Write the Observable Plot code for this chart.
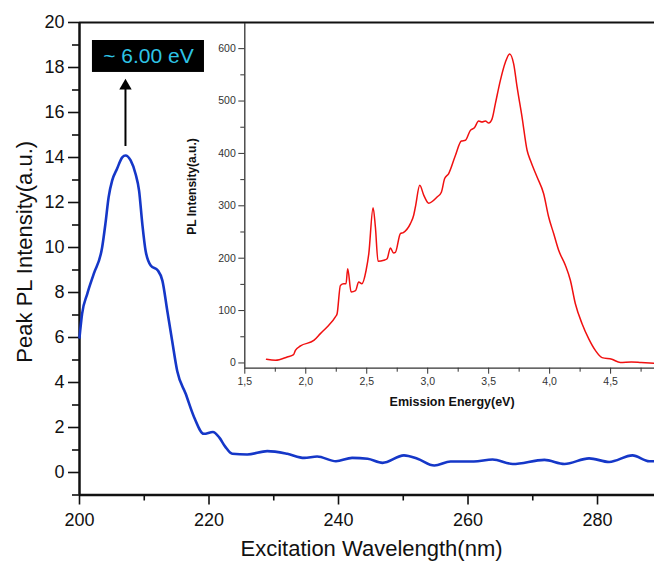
<!DOCTYPE html>
<html>
<head>
<meta charset="utf-8">
<script src="https://cdn.jsdelivr.net/npm/d3@7"></script>
<script src="https://cdn.jsdelivr.net/npm/@observablehq/plot@0.6"></script>
<style>
  html, body { margin: 0; padding: 0; background: white; }
  #wrap { position: relative; width: 654px; height: 562px; overflow: hidden; }
  #inset { position: absolute; left: 180px; top: 0px; }
  svg { overflow: visible; }
</style>
</head>
<body>
<div id="wrap"><div id="main"></div><div id="inset"></div></div>
<script>
// Main chart: excitation spectrum
const wavelength = [200, 200.4, 201.2, 202.2, 203.5, 204.0, 204.5, 205.05, 205.8, 206.6, 207.1, 207.9, 208.65, 209.2, 209.7, 210.2, 211.0, 212.1, 212.8, 213.55, 214.3, 215.1, 216.4, 217.7, 219.2, 220.6, 221.6, 222.5, 223.6, 225.9, 229.0, 232.1, 234.7, 236.7, 239.6, 242.1, 244.5, 246.8, 250.1, 252.2, 254.8, 257.3, 260.9, 263.8, 266.9, 271.8, 274.9, 278.7, 281.8, 285.4, 288.0, 288.8];
const peakIntensity = [6.0, 7.05, 7.94, 8.83, 10.01, 11.05, 12.24, 12.98, 13.5, 14.01, 14.09, 13.87, 13.28, 12.53, 11.05, 9.87, 9.2, 8.98, 8.53, 7.2, 5.87, 4.5, 3.5, 2.46, 1.72, 1.8, 1.55, 1.15, 0.83, 0.8, 0.95, 0.83, 0.65, 0.71, 0.5, 0.65, 0.61, 0.43, 0.76, 0.61, 0.31, 0.49, 0.49, 0.58, 0.38, 0.56, 0.38, 0.63, 0.47, 0.76, 0.5, 0.5];
const xTicks = [200, 220, 240, 260, 280];
const xMinor = [210, 230, 250, 270];
const yTicks = [0, 2, 4, 6, 8, 10, 12, 14, 16, 18, 20];
const yMinor = [-1, 1, 3, 5, 7, 9, 11, 13, 15, 17, 19];
const annotationText = ["~ 6.00 eV"];

// Inset: emission spectrum
const energy = [1.678, 1.752, 1.848, 1.90, 1.915, 1.957, 2.066, 2.12, 2.175, 2.243, 2.257, 2.284, 2.311, 2.33, 2.344, 2.372, 2.408, 2.434, 2.46, 2.495, 2.517, 2.552, 2.571, 2.593, 2.64, 2.667, 2.694, 2.72, 2.735, 2.776, 2.80, 2.858, 2.885, 2.899, 2.935, 2.968, 3.008, 3.077, 3.112, 3.139, 3.171, 3.227, 3.276, 3.309, 3.35, 3.383, 3.418, 3.445, 3.473, 3.5, 3.528, 3.555, 3.596, 3.637, 3.672, 3.705, 3.733, 3.774, 3.815, 3.842, 3.897, 3.951, 3.992, 4.033, 4.074, 4.129, 4.17, 4.211, 4.266, 4.32, 4.375, 4.43, 4.51, 4.58, 4.67, 4.75, 4.86];
const plIntensity = [7, 5.2, 11.5, 16, 24, 32.5, 43, 56, 68.7, 88, 94, 148, 151, 151, 180, 135.5, 138, 154.6, 151, 177, 208.8, 296.5, 259.5, 194, 196, 199, 219.5, 210, 211, 247, 249, 266, 282, 297.7, 339, 320, 305, 316.8, 326, 352, 361, 396, 423.7, 425, 444, 449, 462, 460, 462, 458, 466, 495, 539.5, 574, 590, 571, 527, 469, 406, 386.8, 355, 323, 278.6, 247, 215, 186.5, 157.8, 113, 75, 46.5, 24, 10.2, 7, 1, 2, 1, -0.5];
const eTicks = [1.5, 2.0, 2.5, 3.0, 3.5, 4.0, 4.5];
const eMinor = [1.75, 2.25, 2.75, 3.25, 3.75, 4.25, 4.75];
const iTicks = [0, 100, 200, 300, 400, 500, 600];
const iMinor = [50, 150, 250, 350, 450, 550];

const font = "'Liberation Sans', Arial, Helvetica, sans-serif";
const blue = wavelength.map((w, i) => ({w, v: peakIntensity[i]}));
const red = energy.map((e, i) => ({e, v: plIntensity[i]}));

const main = Plot.plot({
  width: 654, height: 562,
  marginLeft: 79, marginRight: 0, marginTop: 22, marginBottom: 67.5,
  x: {domain: [200, 288.8]},
  y: {domain: [-1, 20]},
  style: {fontFamily: font, color: "#111", background: "white"},
  marks: [
    Plot.axisX(xTicks, {anchor: "bottom", tickSize: 10, tickPadding: 8, fontSize: 18, strokeWidth: 1.6, label: null}),
    Plot.axisX(xMinor, {anchor: "bottom", tickSize: 6, tickFormat: () => "", strokeWidth: 1.6, label: null}),
    Plot.axisY(yTicks, {anchor: "left", tickSize: 11, tickPadding: 4, fontSize: 18, strokeWidth: 1.6, label: null}),
    Plot.axisY(yMinor, {anchor: "left", tickSize: 7, tickFormat: () => "", strokeWidth: 1.6, label: null}),
    Plot.ruleX([200], {stroke: "#111", strokeWidth: 2.5}),
    Plot.ruleY([-1], {stroke: "#111", strokeWidth: 2.5}),
    Plot.ruleY([20], {stroke: "#111", strokeWidth: 2}),
    Plot.line(blue, {x: "w", y: "v", stroke: "#1537c8", strokeWidth: 2.6, curve: "monotone-x"}),
    Plot.rect(annotationText, {x1: 202.0, x2: 219.3, y1: 17.78, y2: 19.2, fill: "black"}),
    Plot.text(annotationText, {x: 210.65, y: 18.49, text: d => d, fill: "#2ec4e6", fontSize: 21, textAnchor: "middle", lineAnchor: "middle"}),
    Plot.ruleX([207.1], {y1: 14.49, y2: 17.1, stroke: "black", strokeWidth: 2}),
    Plot.dot([207.1], {x: d => d, y: 17.18, symbol: "triangle", r: 4.6, fill: "black", stroke: "none"}),
    Plot.text(["Excitation Wavelength(nm)"], {frameAnchor: "bottom", dx: 4.5, dy: 60.5, lineAnchor: "bottom", textAnchor: "middle", fontSize: 22, fill: "#111"}),
    Plot.text(["Peak PL Intensity(a.u.)"], {frameAnchor: "left", dx: -55, dy: -7, rotate: -90, fontSize: 22, fill: "#111", lineAnchor: "middle", textAnchor: "middle"})
  ]
});
document.getElementById("main").append(main);

const fmt = d => d.toFixed(1).replace(".", ",");
const inset = Plot.plot({
  width: 474, height: 420,
  marginLeft: 64.3, marginRight: 0, marginTop: 23, marginBottom: 52.3,
  x: {domain: [1.5, 4.86]},
  y: {domain: [-10, 648]},
  style: {fontFamily: font, color: "#333", background: "transparent"},
  marks: [
    Plot.axisX(eTicks, {anchor: "bottom", tickSize: 6, tickPadding: 3, fontSize: 10.5, tickFormat: fmt, stroke: "#333", label: null}),
    Plot.axisX(eMinor, {anchor: "bottom", tickSize: 4, tickFormat: () => "", stroke: "#333", label: null}),
    Plot.axisY(iTicks, {anchor: "left", tickSize: 6, tickPadding: 3, fontSize: 10.5, stroke: "#333", label: null}),
    Plot.axisY(iMinor, {anchor: "left", tickSize: 4, tickFormat: () => "", stroke: "#333", label: null}),
    Plot.ruleX([1.5], {stroke: "#333", strokeWidth: 1.3}),
    Plot.ruleY([-10], {stroke: "#333", strokeWidth: 1.3}),
    Plot.line(red, {x: "e", y: "v", stroke: "#f01010", strokeWidth: 1.5, curve: "monotone-x"}),
    Plot.text(["Emission Energy(eV)"], {x: 3.2, frameAnchor: "bottom", dy: 37.5, lineAnchor: "bottom", fontSize: 12.5, fontWeight: "bold", fill: "#111"}),
    Plot.text(["PL Intensity(a.u.)"], {frameAnchor: "top-left", dx: -49, dy: 163, rotate: -90, fontSize: 12, fontWeight: "bold", fill: "#111", lineAnchor: "bottom", textAnchor: "middle"})
  ]
});
document.getElementById("inset").append(inset);
</script>
</body>
</html>
